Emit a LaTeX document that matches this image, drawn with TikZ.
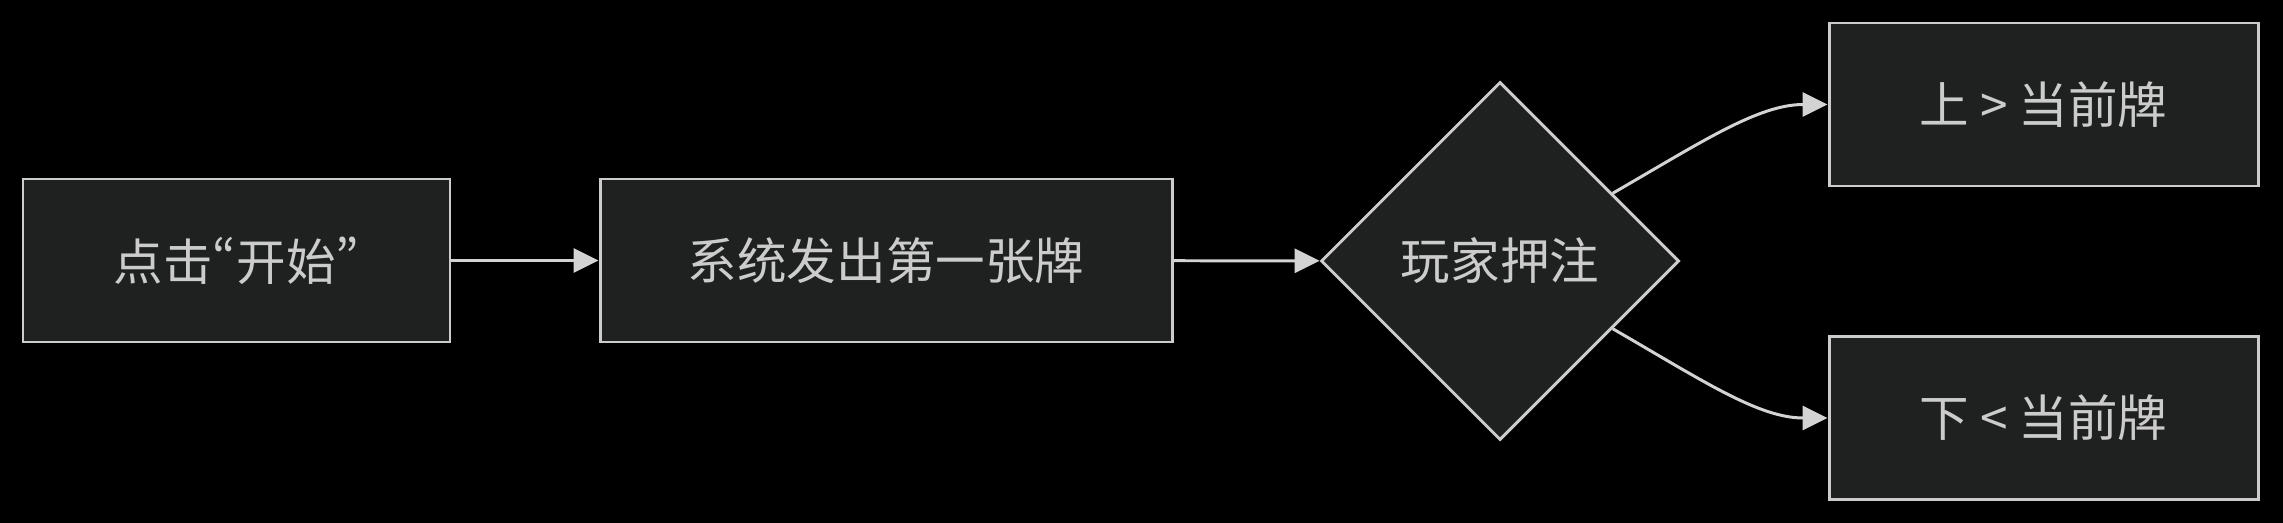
\documentclass[tikz,border=0pt]{standalone}
\usepackage{fontspec}
\setmainfont{Noto Sans CJK SC}
\newfontfamily\quotefont{Noto Sans CJK SC}[CharacterWidth=Proportional]
\usetikzlibrary{shapes.geometric,arrows.meta}
\definecolor{nodefill}{HTML}{1F2020}
\definecolor{nodeline}{HTML}{CCCCCC}
\definecolor{edgeline}{HTML}{D3D3D3}
\begin{document}
\begin{tikzpicture}[
  box/.style={draw=nodeline,fill=nodefill,line width=0.85pt,text=nodeline,
    minimum height=1.63cm,inner sep=0pt,font=\fontsize{14.1}{16}\selectfont},
  choice/.style={diamond,aspect=1,draw=nodeline,fill=nodefill,line width=0.85pt,
    text=nodeline,minimum width=3.58cm,minimum height=3.58cm,inner sep=0pt,
    font=\fontsize{14.1}{16}\selectfont},
  flow/.style={draw=edgeline,line width=0.85pt,
    -{Triangle[length=0.25cm,width=0.24cm]}}]
 \useasboundingbox (0,0) rectangle (22.83,5.22);
 \fill[black](-0.05,-0.05) rectangle (22.88,5.27);
 \node[box,minimum width=4.27cm] (click) at (2.365,2.615) {点击{\quotefont “}开始{\quotefont ”}};
 \node[box,minimum width=5.72cm] (deal) at (8.86,2.615) {系统发出第一张牌};
 \node[choice] (bet) at (15.0,2.61) {玩家押注};
 \node[box,minimum width=4.29cm] (high) at (20.435,4.175) {上 > 当前牌};
 \node[box,minimum width=4.29cm] (low) at (20.435,1.04) {下 < 当前牌};
 \draw[flow](click) -- (deal);
 \draw[flow](deal) -- (bet);
 \draw[flow](bet.31) .. controls +(0.9,0.52) and +(-0.69,0) .. (high.west);
 \draw[flow](bet.-31) .. controls +(0.9,-0.52) and +(-0.69,0) .. (low.west);
\end{tikzpicture}
\end{document}
